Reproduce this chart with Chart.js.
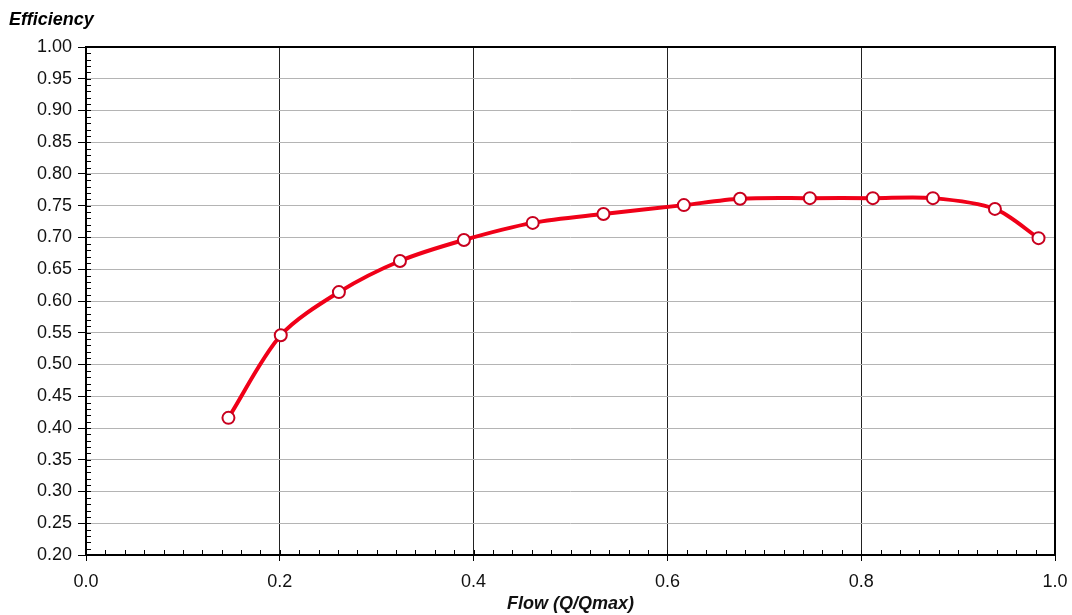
<!DOCTYPE html>
<html>
<head>
<meta charset="utf-8">
<script src="https://cdn.jsdelivr.net/npm/chart.js@4"></script>
<style>
  html, body { margin: 0; padding: 0; background: #fff; }
  #wrap { width: 1072px; height: 615px; position: relative; }
</style>
</head>
<body>
<div id="wrap"><canvas id="grafica"></canvas></div>
<script>
// datos
const flow = [0.147, 0.201, 0.261, 0.324, 0.390, 0.461, 0.534, 0.617, 0.675, 0.747, 0.812, 0.874, 0.938, 0.983];
const efficiency = [0.416, 0.546, 0.614, 0.663, 0.696, 0.723, 0.737, 0.751, 0.761, 0.762, 0.762, 0.762, 0.745, 0.699];
const xTicks = [0.0, 0.2, 0.4, 0.6, 0.8, 1.0];
const yTitle = 'Efficiency';
const xTitle = 'Flow (Q/Qmax)';

const FUENTE = '"Liberation Sans", Arial, Helvetica, sans-serif';

const puntos = flow.map((f, i) => ({ x: f, y: efficiency[i] }));

// marco, ticks menores y titulo del eje Y
const marcoPlugin = {
  id: 'marco',
  afterDraw(chart) {
    const ctx = chart.ctx;
    const a = chart.chartArea;
    const sx = chart.scales.x;
    const sy = chart.scales.y;
    ctx.save();
    ctx.strokeStyle = '#000';
    ctx.lineWidth = 1;
    ctx.beginPath();
    for (let v = 0.2; v <= 1.0001; v += 0.01) {
      const py = Math.round(sy.getPixelForValue(v)) + 0.5;
      ctx.moveTo(a.left, py);
      ctx.lineTo(a.left + 5, py);
    }
    for (let v = 0; v <= 1.0001; v += 0.02) {
      const px = Math.round(sx.getPixelForValue(v)) + 0.5;
      ctx.moveTo(px, a.bottom);
      ctx.lineTo(px, a.bottom - 5);
    }
    ctx.stroke();
    ctx.lineWidth = 2;
    ctx.strokeRect(a.left, a.top, a.right - a.left, a.bottom - a.top);
    ctx.fillStyle = '#000';
    ctx.font = 'italic bold 18px ' + FUENTE;
    ctx.textBaseline = 'alphabetic';
    ctx.textAlign = 'left';
    ctx.fillText(yTitle, 9, 25);
    ctx.restore();
  }
};

new Chart(document.getElementById('grafica'), {
  type: 'scatter',
  data: {
    datasets: [{
      data: puntos,
      showLine: true,
      borderColor: '#f00018',
      borderWidth: 4,
      tension: 0.3,
      pointRadius: 6,
      pointBorderWidth: 2,
      pointBackgroundColor: '#fff',
      pointBorderColor: '#c8001e'
    }]
  },
  options: {
    responsive: true,
    maintainAspectRatio: false,
    animation: false,
    layout: { padding: { top: 47, right: 17, left: 0, bottom: 0 } },
    plugins: { legend: { display: false }, tooltip: { enabled: false } },
    scales: {
      x: {
        type: 'linear',
        min: 0,
        max: 1,
        afterBuildTicks: (s) => { s.ticks = xTicks.map(v => ({ value: v })); },
        afterFit: (s) => { s.height = 60; s.paddingLeft = 0; s.paddingRight = 0; },
        grid: { color: '#222', lineWidth: 1, tickLength: 6, tickColor: '#000' },
        border: { display: false },
        ticks: {
          color: '#111',
          padding: 10,
          maxRotation: 0,
          font: { family: FUENTE, size: 18 },
          callback: (v) => Number(v).toFixed(1)
        },
        title: {
          display: true,
          text: xTitle,
          color: '#111',
          padding: { top: 0, bottom: 0 },
          font: { family: FUENTE, size: 18, style: 'italic', weight: 'bold' }
        }
      },
      y: {
        min: 0.2,
        max: 1.0,
        afterFit: (s) => { s.width = 86; s.paddingTop = 0; s.paddingBottom = 0; },
        grid: { color: '#b4b4b4', lineWidth: 1, tickLength: 8, tickColor: '#000' },
        border: { display: false },
        ticks: {
          stepSize: 0.05,
          color: '#111',
          padding: 6,
          font: { family: FUENTE, size: 18 },
          callback: (v) => Number(v).toFixed(2)
        }
      }
    }
  },
  plugins: [marcoPlugin]
});
</script>
</body>
</html>
